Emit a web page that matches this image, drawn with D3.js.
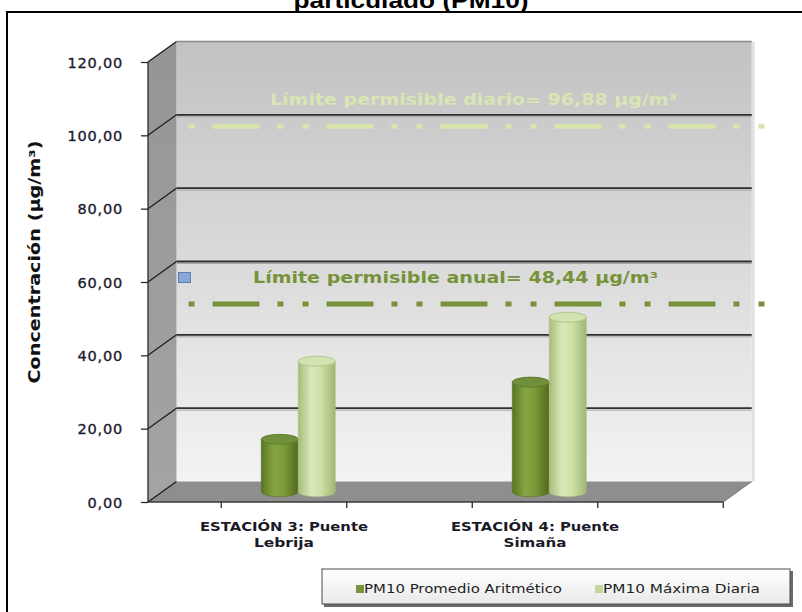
<!DOCTYPE html>
<html>
<head>
<meta charset="utf-8">
<script src="https://cdn.jsdelivr.net/npm/d3@7"></script>
<style>
  html, body { margin: 0; padding: 0; background: #fff; }
  svg { display: block; }
</style>
</head>
<body>
<svg id="chart" width="802" height="612"></svg>
<script>
// ---- data ----
const categories = [["ESTACIÓN 3: Puente", "Lebrija"], ["ESTACIÓN 4: Puente", "Simaña"]];
const seriesNames = ["PM10 Promedio Aritmético", "PM10 Máxima Diaria"];
const promedio = [14.3, 29.9];
const maxima = [35.6, 47.6];
const yTicks = [0, 20, 40, 60, 80, 100, 120];
const limitDiario = 96.88;
const limitAnual = 48.44;
const limitLabels = ["Límite permisible diario= 96,88 µg/m³", "Límite permisible anual= 48,44 µg/m³"];

const seriesColors = {
  dark: { body: ["#587620", "#86a544", "#7b9a39", "#51691c"], top: "#70903a", edge: "#5a7626", key: "#77933c" },
  light: { body: ["#a6bd79", "#dbe9bb", "#cfe0a6", "#9fb676"], top: "#d3e3af", edge: "#a9bf82", key: "#c3d69b" }
};

const svg = d3.select("#chart");
const defs = svg.append("defs");
const fmt = v => d3.format(".2f")(v).replace(".", ",");

// ---- geometry ----
const DX = 28.5, DY = -20.5;           // 3-D depth offset of the back wall
const y = d3.scaleLinear().domain([0, 120]).range([502, 62]);
const x = d3.scaleLinear().domain([0, 1]).range([284, 535]);
const axisX = 148;
const floorRight = x(1.75);
const series = d3.scaleBand().domain([0, 1]).range([-37, 37]);

// ---- title (partially hidden above the frame) ----
svg.append("text")
  .attr("x", 411).attr("y", 8)
  .attr("text-anchor", "middle")
  .attr("font-family", "Liberation Sans, Arial, sans-serif")
  .attr("font-weight", "bold").attr("font-size", 22)
  .attr("textLength", 235).attr("lengthAdjust", "spacingAndGlyphs")
  .text("particulado (PM10)");

// ---- chart frame ----
svg.append("rect")
  .attr("x", 7).attr("y", 12).attr("width", 820).attr("height", 640)
  .attr("fill", "#fff").attr("stroke", "#000").attr("stroke-width", 2);

// ---- gradients ----
const wallGrad = defs.append("linearGradient").attr("id", "wall").attr("x1", 0).attr("y1", 0).attr("x2", 0).attr("y2", 1);
wallGrad.append("stop").attr("offset", 0).attr("stop-color", "#c2c2c2");
wallGrad.append("stop").attr("offset", 1).attr("stop-color", "#f3f3f3");

const sideGrad = defs.append("linearGradient").attr("id", "side").attr("x1", 0).attr("y1", 0).attr("x2", 0).attr("y2", 1);
sideGrad.append("stop").attr("offset", 0).attr("stop-color", "#959595");
sideGrad.append("stop").attr("offset", 1).attr("stop-color", "#a4a4a4");

Object.entries(seriesColors).forEach(([k, c]) => {
  const g = defs.append("linearGradient").attr("id", "cyl-" + k).attr("x1", 0).attr("x2", 1).attr("y1", 0).attr("y2", 0);
  [0, 0.35, 0.62, 1].forEach((o, i) => g.append("stop").attr("offset", o).attr("stop-color", c.body[i]));
});

const legGrad = defs.append("linearGradient").attr("id", "leg").attr("x1", 0).attr("y1", 0).attr("x2", 0).attr("y2", 1);
legGrad.append("stop").attr("offset", 0).attr("stop-color", "#ffffff");
legGrad.append("stop").attr("offset", 1).attr("stop-color", "#e9e9e9");

defs.append("filter").attr("id", "soft").append("feGaussianBlur").attr("stdDeviation", 0.45);

// ---- walls and floor ----
const plot = svg.append("g");
const backL = axisX + DX, backR = floorRight + DX;

plot.append("polygon")
  .attr("points", [[backL, y(120) + DY], [backR, y(120) + DY], [backR, y(0) + DY], [backL, y(0) + DY]].join(" "))
  .attr("fill", "url(#wall)");

// soft shadow on the right edge of the back wall
plot.append("rect").attr("x", backR).attr("y", y(120) + DY).attr("width", 3).attr("height", y(0) - y(120))
  .attr("fill", "#e2e2e2").attr("filter", "url(#soft)");

plot.append("polygon")
  .attr("points", [[axisX, y(0)], [axisX, y(120)], [backL, y(120) + DY], [backL, y(0) + DY]].join(" "))
  .attr("fill", "url(#side)");

plot.append("polygon")
  .attr("points", [[axisX, y(0)], [backL, y(0) + DY], [backR, y(0) + DY], [floorRight, y(0)]].join(" "))
  .attr("fill", "#8e8e8e");
plot.append("line")
  .attr("x1", floorRight).attr("y1", y(0)).attr("x2", backR).attr("y2", y(0) + DY)
  .attr("stroke", "#777").attr("stroke-width", 1);

// grid lines on the back wall and the side wall
yTicks.forEach(v => {
  const yb = y(v) + DY;
  if (v > 0 && v < 120) {
    plot.append("line").attr("x1", backL).attr("x2", backR).attr("y1", yb).attr("y2", yb)
      .attr("stroke", "#2e2e2e").attr("stroke-width", 1.8);
    plot.append("line").attr("x1", backL).attr("x2", backR).attr("y1", yb + 2).attr("y2", yb + 2)
      .attr("stroke", "#a8a8a8").attr("stroke-width", 1);
  }
  if (v === 120) {
    plot.append("line").attr("x1", backL).attr("x2", backR).attr("y1", yb).attr("y2", yb)
      .attr("stroke", "#8a8a8a").attr("stroke-width", 1.5);
  }
  plot.append("line").attr("x1", axisX).attr("y1", y(v)).attr("x2", backL).attr("y2", yb)
    .attr("stroke", "#1e1e1e").attr("stroke-width", 1.3);
});

// ---- limit lines ----
const dash = "47,18,6,19,6,18";
const lineL = backL + 2, lineR = backR + 19;
const limits = [
  { v: limitDiario, color: "#d8e6ae", label: limitLabels[0], lx: 270, lw: 407, ly: 105, tcolor: "#d9e5b3" },
  { v: limitAnual, color: "#76933a", label: limitLabels[1], lx: 253, lw: 405, ly: 283, tcolor: "#76933a" }
];
limits.forEach(l => {
  const yl = y(l.v) + DY;
  plot.append("line")
    .attr("x1", lineL).attr("x2", lineR).attr("y1", yl).attr("y2", yl)
    .attr("stroke", l.color).attr("stroke-width", 5)
    .attr("stroke-dasharray", dash).attr("stroke-dashoffset", 80);
  plot.append("text")
    .attr("x", l.lx).attr("y", l.ly)
    .attr("font-family", "DejaVu Sans, Verdana, sans-serif")
    .attr("font-weight", "bold").attr("font-size", 15.5)
    .attr("textLength", l.lw).attr("lengthAdjust", "spacingAndGlyphs")
    .attr("fill", l.tcolor)
    .text(l.label);
});

// small marker on the back wall
plot.append("rect")
  .attr("x", backL + 2).attr("y", y(60) + DY + 11).attr("width", 12).attr("height", 10)
  .attr("fill", "#8aa6d6").attr("stroke", "#5c7cb3").attr("stroke-width", 1);

// ---- cylinders ----
const RY = 5;
const rows = [];
categories.forEach((c, i) => {
  rows.push({ i, s: 0, v: promedio[i], c: seriesColors.dark });
  rows.push({ i, s: 1, v: maxima[i], c: seriesColors.light });
});
const bw = series.bandwidth();
const barG = plot.append("g").attr("filter", "url(#soft)");
rows.forEach(d => {
  const key = d.s === 0 ? "dark" : "light";
  const cx = x(d.i) + DX / 2 + series(d.s) + bw / 2;
  const rx = bw / 2;
  const yTop = y(d.v) + DY / 2;
  const yBot = y(0) + DY / 2;
  const body = `M${cx - rx},${yTop} L${cx - rx},${yBot} A${rx},${RY} 0 0 0 ${cx + rx},${yBot} L${cx + rx},${yTop} Z`;
  barG.append("path").attr("d", body).attr("fill", `url(#cyl-${key})`)
    .attr("stroke", d.c.edge).attr("stroke-width", 0.6);
  barG.append("ellipse").attr("cx", cx).attr("cy", yTop).attr("rx", rx).attr("ry", RY)
    .attr("fill", d.c.top).attr("stroke", d.c.edge).attr("stroke-width", 0.8);
});

// ---- axes ----
const axisG = svg.append("g");
axisG.append("line").attr("x1", axisX).attr("x2", axisX).attr("y1", y(120)).attr("y2", y(0))
  .attr("stroke", "#2a2a2a").attr("stroke-width", 1.3);
axisG.append("line").attr("x1", axisX).attr("x2", floorRight).attr("y1", y(0)).attr("y2", y(0))
  .attr("stroke", "#3a3a3a").attr("stroke-width", 1.5);

const yAxis = d3.axisLeft(y).tickValues(yTicks).tickFormat(fmt).tickSize(7).tickPadding(18);
const yg = svg.append("g").attr("transform", `translate(${axisX},0)`).call(yAxis);
yg.select(".domain").remove();
yg.selectAll(".tick line").attr("stroke", "#2a2a2a").attr("stroke-width", 1.3);
yg.selectAll(".tick text")
  .attr("font-family", "DejaVu Sans, Verdana, sans-serif")
  .attr("font-size", 14.5).attr("fill", "#1c1c30")
  .attr("stroke", "#1c1c30").attr("stroke-width", 0.35)
  .attr("letter-spacing", 0.8).attr("dy", "0.36em");

// category ticks along the front edge of the floor
const xTickVals = [-0.25, 0.25, 0.75, 1.25, 1.75];
axisG.selectAll(".xt").data(xTickVals).join("line")
  .attr("x1", d => x(d)).attr("x2", d => x(d))
  .attr("y1", y(0)).attr("y2", y(0) + 6)
  .attr("stroke", "#2a2a2a").attr("stroke-width", 1.3);

// category labels
const secondLineWidths = [60, 63];
categories.forEach((lines, i) => {
  const t = svg.append("text")
    .attr("text-anchor", "middle")
    .attr("font-family", "DejaVu Sans, Verdana, sans-serif")
    .attr("font-weight", "bold").attr("font-size", 12.5).attr("fill", "#1a1a28");
  lines.forEach((ln, k) => {
    t.append("tspan").attr("x", x(i)).attr("y", 531 + k * 16)
      .attr("textLength", k === 0 ? 168 : secondLineWidths[i])
      .attr("lengthAdjust", "spacingAndGlyphs")
      .text(ln);
  });
});

// y axis title
svg.append("text")
  .attr("transform", `translate(40,262) rotate(-90)`)
  .attr("text-anchor", "middle")
  .attr("font-family", "DejaVu Sans, Verdana, sans-serif")
  .attr("font-weight", "bold").attr("font-size", 15)
  .attr("textLength", 243).attr("lengthAdjust", "spacingAndGlyphs")
  .attr("fill", "#111")
  .text("Concentración (µg/m³)");

// ---- legend ----
const leg = svg.append("g");
leg.append("rect").attr("x", 324).attr("y", 571).attr("width", 469).attr("height", 36).attr("fill", "#6a6a6a");
leg.append("rect").attr("x", 322).attr("y", 569).attr("width", 468).attr("height", 35)
  .attr("fill", "url(#leg)").attr("stroke", "#4a4a4a").attr("stroke-width", 1);
const legItems = [
  { name: seriesNames[0], color: seriesColors.dark.key, x: 356, w: 198 },
  { name: seriesNames[1], color: seriesColors.light.key, x: 595, w: 157 }
];
legItems.forEach(it => {
  leg.append("rect").attr("x", it.x).attr("y", 585).attr("width", 8).attr("height", 8).attr("fill", it.color);
  leg.append("text").attr("x", it.x + 8).attr("y", 593)
    .attr("font-family", "DejaVu Sans, Verdana, sans-serif")
    .attr("font-size", 11.5).attr("fill", "#222")
    .attr("textLength", it.w).attr("lengthAdjust", "spacingAndGlyphs")
    .text(it.name);
});
</script>
</body>
</html>
